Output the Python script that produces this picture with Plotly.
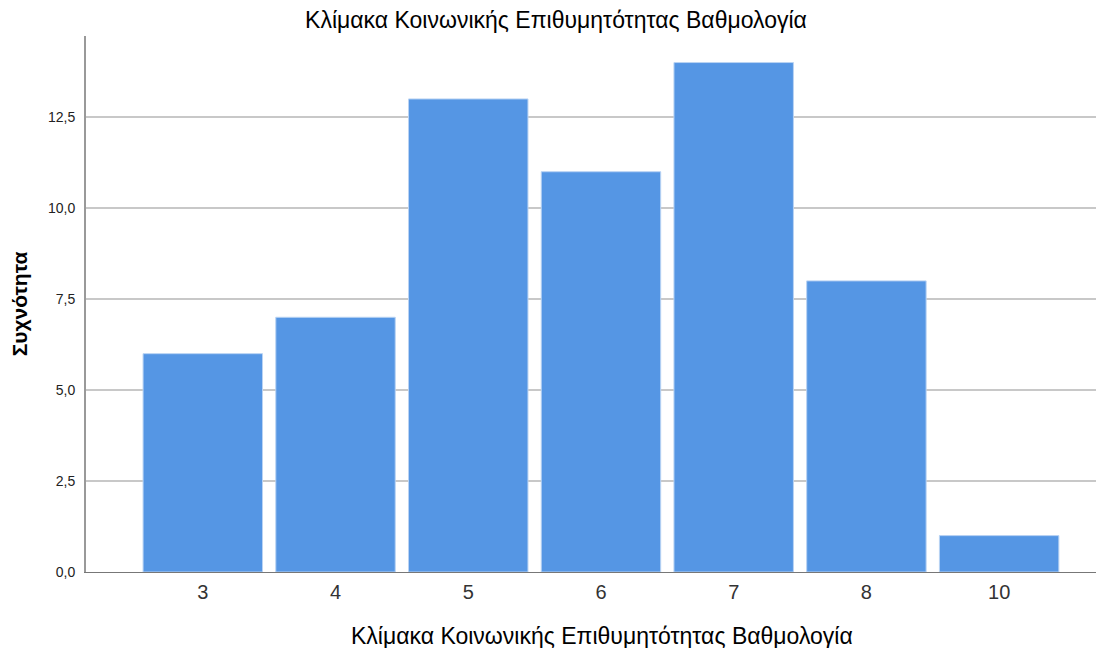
import plotly.graph_objects as go

categories = ["3", "4", "5", "6", "7", "8", "10"]
counts = [6, 7, 13, 11, 14, 8, 1]
title_text = "Κλίμακα Κοινωνικής Επιθυμητότητας Βαθμολογία"
x_label = "Κλίμακα Κοινωνικής Επιθυμητότητας Βαθμολογία"
y_label = "Συχνότητα"
y_ticks = [0, 2.5, 5, 7.5, 10, 12.5]

# page has an 8px body margin, so the figure is 8px smaller on each side
W, H = 1096, 640
ML, MR, MT, MB = 78, 4, 28, 76
PW, PH = W - ML - MR, H - MT - MB

fig = go.Figure(
    go.Bar(
        x=list(range(len(categories))),
        y=counts,
        width=0.9,
        marker=dict(color="#5596E4", line=dict(color="#B9D3F3", width=1)),
    )
)

fig.update_layout(
    width=W,
    height=H,
    paper_bgcolor="white",
    plot_bgcolor="white",
    separators=",.",
    margin=dict(l=ML, r=MR, t=MT, b=MB),
    showlegend=False,
    font=dict(family="Liberation Sans, Arial, sans-serif", color="#000"),
    title=dict(
        text=title_text,
        x=0.5,
        xref="container",
        xanchor="center",
        y=1 - 12 / H,
        yanchor="middle",
        font=dict(size=23, color="#000"),
    ),
    annotations=[
        dict(
            text=x_label,
            xref="paper",
            yref="paper",
            x=(602 - 8 - ML) / PW,
            y=-(636 - 8 - (H - MB)) / PH,
            xanchor="center",
            yanchor="middle",
            showarrow=False,
            font=dict(size=23, color="#000"),
        )
    ],
)

fig.update_xaxes(
    tickmode="array",
    tickvals=list(range(len(categories))),
    ticktext=categories,
    range=[-0.88, 6.76],
    showgrid=False,
    showline=True,
    linecolor="#777",
    linewidth=1,
    ticks="",
    ticklabelstandoff=2,
    tickfont=dict(size=20, color="#333"),
    zeroline=False,
)

fig.update_yaxes(
    range=[0, 14.73],
    tickmode="array",
    tickvals=y_ticks,
    tickformat=".1f",
    showgrid=True,
    gridcolor="#C8C8C8",
    gridwidth=2,
    showline=True,
    linecolor="#999",
    linewidth=2,
    ticks="",
    ticklabelstandoff=6,
    tickfont=dict(size=14, color="#222"),
    title=dict(text="<b>" + y_label + "</b>", font=dict(size=21, color="#000"), standoff=16),
    zeroline=False,
)

fig.write_html("out.html")
